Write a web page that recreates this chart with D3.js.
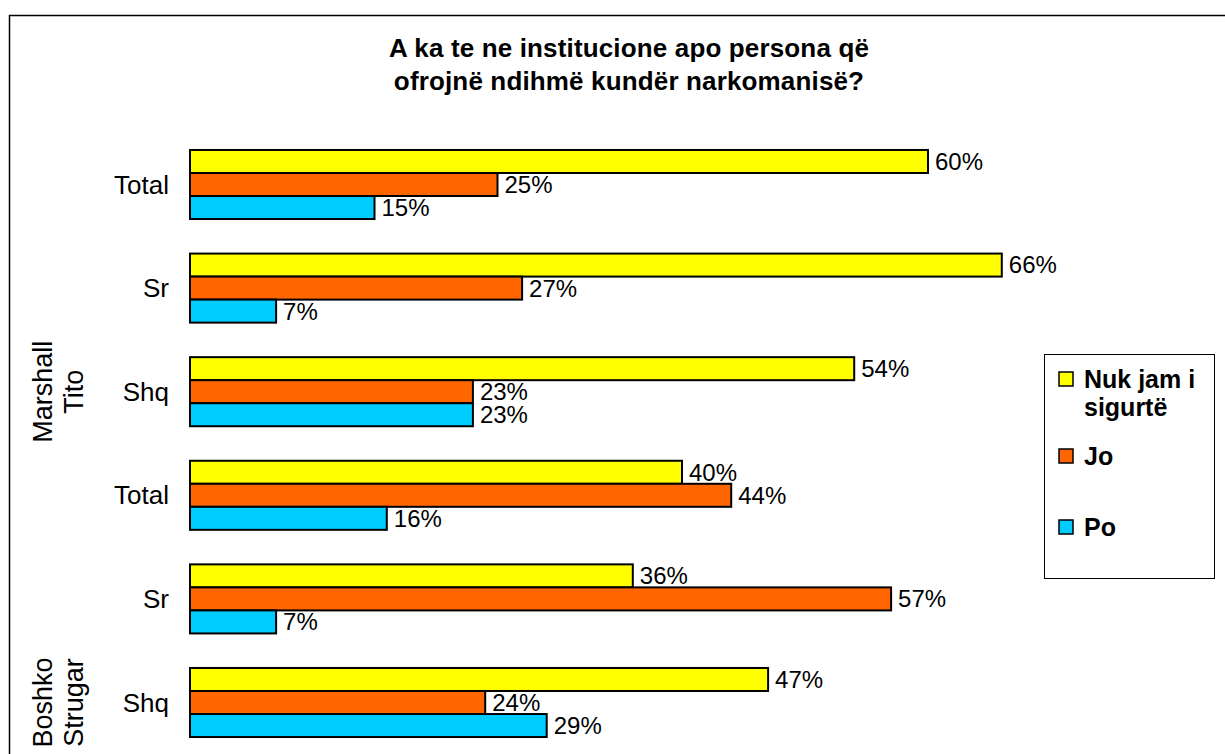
<!DOCTYPE html>
<html>
<head>
<meta charset="utf-8">
<script src="https://cdn.jsdelivr.net/npm/d3@7"></script>
<style>
  html, body { margin: 0; padding: 0; background: #fff; }
  svg { display: block; font-family: Arial, "Liberation Sans", sans-serif; }
</style>
</head>
<body>
<svg id="chart" width="1225" height="754"></svg>
<script>
// Survey answers by school and language group (percent)
const categories = ["Total", "Sr", "Shq", "Total", "Sr", "Shq"];
const groups = ["Marshall Tito", "Boshko Strugar"];
const groupOfCategory = [0, 0, 0, 1, 1, 1];
const seriesNames = ["Nuk jam i sigurtë", "Jo", "Po"];
const nukJam = [60, 66, 54, 40, 36, 47];
const jo = [25, 27, 23, 44, 57, 24];
const po = [15, 7, 23, 16, 7, 29];
const titleLines = ["A ka te ne institucione apo persona që", "ofrojnë ndihmë kundër narkomanisë?"];

const colors = ["#FFFF00", "#FF6600", "#00CCFF"];
const series = [nukJam, jo, po];

const svg = d3.select("#chart");

// outer chart frame
svg.append("rect")
  .attr("x", 9.5).attr("y", 15.5)
  .attr("width", 1240).attr("height", 800)
  .attr("fill", "#fff").attr("stroke", "#000").attr("stroke-width", 1.5);

// title
svg.append("g").selectAll("text").data(titleLines).join("text")
  .attr("x", 629).attr("y", (d, i) => 57 + i * 33)
  .attr("text-anchor", "middle")
  .attr("font-weight", "bold").attr("font-size", 26)
  .attr("letter-spacing", 0.15)
  .text(d => d);

const idx = d3.range(categories.length);
const y = d3.scaleBand().domain(idx).range([132.7, 754.3])
  .paddingInner(1 / 3).paddingOuter(1 / 6);
const ySub = d3.scaleBand().domain(d3.range(series.length)).range([0, y.bandwidth()]);
const x = d3.scaleLinear().domain([0, 100]).range([190, 1420]);

// bars
const gBars = svg.append("g");
series.forEach((vals, s) => {
  gBars.append("g").selectAll("rect").data(idx).join("rect")
    .attr("x", x(0))
    .attr("y", i => y(i) + ySub(s))
    .attr("width", i => x(vals[i]) - x(0))
    .attr("height", ySub.bandwidth())
    .attr("fill", colors[s])
    .attr("stroke", "#000").attr("stroke-width", 2);
});

// value labels
series.forEach((vals, s) => {
  svg.append("g").selectAll("text").data(idx).join("text")
    .attr("x", i => x(vals[i]) + 7)
    .attr("y", i => y(i) + ySub(s) + ySub.bandwidth() / 2)
    .attr("dy", "0.35em")
    .attr("font-size", 24)
    .attr("fill", "#000")
    .text(i => vals[i] + "%");
});

// category labels
svg.append("g").selectAll("text").data(idx).join("text")
  .attr("x", 169)
  .attr("y", i => y(i) + y.bandwidth() / 2)
  .attr("dy", "0.35em")
  .attr("text-anchor", "end")
  .attr("font-size", 26)
  .text(i => categories[i]);

// group labels, rotated, beside the last category of each group
groups.forEach((name, gi) => {
  const members = idx.filter(i => groupOfCategory[i] === gi);
  const last = members[members.length - 1];
  const cy = y(last) + y.bandwidth() / 2;
  const words = name.split(" ");
  const t = svg.append("text")
    .attr("transform", `translate(58,${cy}) rotate(-90)`)
    .attr("text-anchor", "middle")
    .attr("font-size", 27);
  words.forEach((w, k) => {
    t.append("tspan").attr("x", 0)
      .attr("y", (k - (words.length - 1) / 2) * 31 + 9.5)
      .text(w);
  });
});

// legend
const lg = svg.append("g");
lg.append("rect")
  .attr("x", 1044.5).attr("y", 354.5)
  .attr("width", 170).attr("height", 224)
  .attr("fill", "#fff").attr("stroke", "#000").attr("stroke-width", 1);
const legendRows = [
  { lines: ["Nuk jam i", "sigurtë"], y: 379 },
  { lines: ["Jo"], y: 456 },
  { lines: ["Po"], y: 527 }
];
legendRows.forEach((row, s) => {
  lg.append("rect")
    .attr("x", 1059).attr("y", row.y - 7)
    .attr("width", 14).attr("height", 14)
    .attr("fill", colors[s]).attr("stroke", "#000").attr("stroke-width", 1.5);
  const t = lg.append("text")
    .attr("font-weight", "bold").attr("font-size", 25);
  row.lines.forEach((ln, k) => {
    t.append("tspan").attr("x", 1084).attr("y", row.y + 8.5 + k * 28).text(ln);
  });
});
</script>
</body>
</html>
